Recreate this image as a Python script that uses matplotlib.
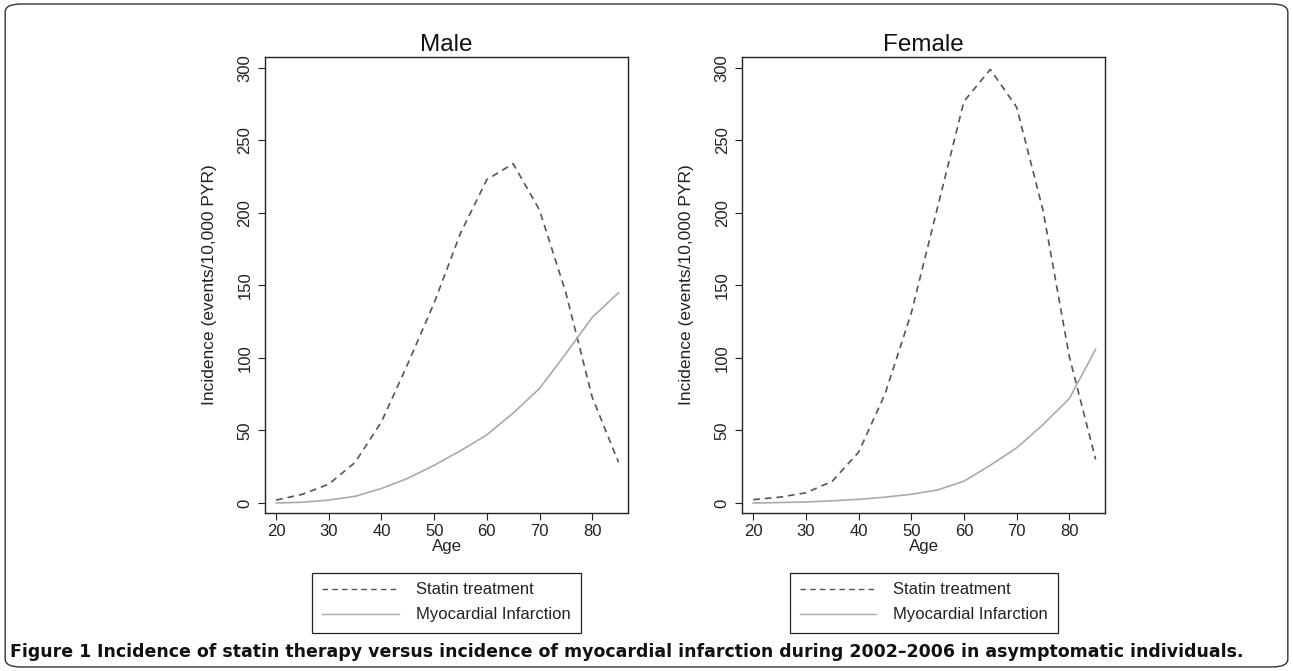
import matplotlib
matplotlib.use("Agg")
import matplotlib.pyplot as plt
from matplotlib.patches import FancyBboxPatch
from matplotlib.lines import Line2D

# data
age = [20, 25, 30, 35, 40, 45, 50, 55, 60, 65, 70, 75, 80, 85]
male_statin = [2, 6, 13, 28, 56, 96, 138, 186, 223, 234, 202, 145, 73, 28]
male_mi = [0, 0.5, 2, 4.6, 10, 17, 26, 36, 47, 62, 79, 103, 128, 145]
female_statin = [2.3, 4, 7, 15, 35, 75, 131, 204, 277, 299, 273, 202, 101, 30]
female_mi = [0, 0.3, 0.7, 1.5, 2.5, 4, 6, 9, 15, 26, 38, 54, 72, 106]

panels = ["Male", "Female"]
series_labels = ["Statin treatment", "Myocardial Infarction"]
yticks = [0, 50, 100, 150, 200, 250, 300]
xticks = [20, 30, 40, 50, 60, 70, 80]
caption_bold = "Figure 1"
caption_rest = (" Incidence of statin therapy versus incidence of myocardial "
                "infarction during 2002\u20132006 in asymptomatic individuals.")

plt.rcParams["font.family"] = ["Liberation Sans", "DejaVu Sans"]

fig = plt.figure(figsize=(12.93, 6.71), dpi=100)

statin_color = "#555555"
mi_color = "#aaaaaa"
ink = "#222222"

axes_left = [0.205, 0.574]
data = [(male_statin, male_mi), (female_statin, female_mi)]

for i, name in enumerate(panels):
    ax = fig.add_axes([axes_left[i], 0.2355, 0.2807, 0.6796])
    st, mi = data[i]
    ax.plot(age, st, color=statin_color, linestyle=(0, (4, 3)), linewidth=1.2)
    ax.plot(age, mi, color=mi_color, linestyle="-", linewidth=1.2)
    ax.set_xlim(17.9, 86.8)
    ax.set_ylim(-6.9, 307.6)
    ax.set_xticks(xticks)
    ax.set_yticks(yticks)
    ax.set_yticklabels([str(v) for v in yticks], rotation=90, va="center")
    ax.tick_params(axis="both", labelsize=12, direction="out", length=5,
                   width=0.8, color=ink, labelcolor=ink)
    ax.tick_params(axis="x", pad=3)
    ax.tick_params(axis="y", pad=4)
    for sp in ax.spines.values():
        sp.set_linewidth(1.0)
        sp.set_color(ink)
    ax.set_title(name, fontsize=17.5, pad=4, color="#111111")
    ax.set_xlabel("Age", fontsize=12.2, labelpad=0, color=ink)
    ax.set_ylabel("Incidence (events/10,000 PYR)", fontsize=12.5, labelpad=15,
                  color=ink)

    handles = [Line2D([], [], color=statin_color, linestyle=(0, (4, 3)), linewidth=1.0),
               Line2D([], [], color=mi_color, linewidth=1.0)]
    cx = axes_left[i] + 0.2807 / 2
    leg = fig.legend(handles, series_labels, loc="center",
                     bbox_to_anchor=(cx, 1 - 602.5 / 671),
                     fontsize=12, handlelength=4.6, handletextpad=1.0,
                     frameon=True, fancybox=False, edgecolor=ink,
                     framealpha=1, borderpad=0.6, labelspacing=0.6,
                     borderaxespad=0)
    leg.get_frame().set_linewidth(0.9)
    for t in leg.get_texts():
        t.set_color(ink)

# rounded border around the whole figure
border = FancyBboxPatch((0.004, 0.006), 0.992, 0.988,
                        boxstyle="round,pad=0,rounding_size=0.012",
                        transform=fig.transFigure, fill=False,
                        edgecolor="#333333", linewidth=1.0)
fig.add_artist(border)

# caption
cap_family = ["Liberation Sans Narrow", "DejaVu Sans"]
y_cap = 1 - 652 / 671
t1 = fig.text(10 / 1293, y_cap, caption_bold, fontsize=12.5, fontweight="bold",
              family=cap_family, va="center", ha="left", color="#111111")
fig.canvas.draw()
bb = t1.get_window_extent()
fig.text(bb.x1 / fig.bbox.width, y_cap, caption_rest, fontsize=12.5,
         fontweight="bold", family=cap_family, va="center", ha="left",
         color="#111111")

fig.savefig("out.png", dpi=100)
